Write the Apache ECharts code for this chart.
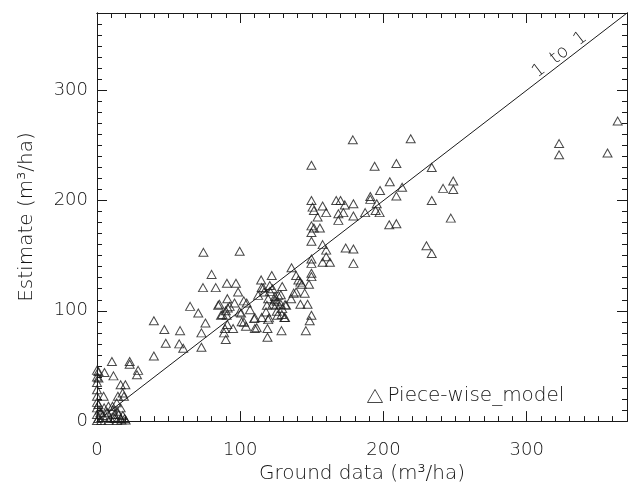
<!DOCTYPE html>
<html>
<head>
<meta charset="utf-8">
<script src="https://cdn.jsdelivr.net/npm/echarts@6/dist/echarts.min.js"></script>
<style>html,body{margin:0;padding:0;background:#fff}#c{width:634px;height:489px}</style>
</head>
<body>
<div id="c"></div>
<script>
// Ground data (m3/ha)
var groundData = [363.5,322.6,322.6,356.4,178.6,219,149.7,193.8,209,233.7,204.4,213,248.7,241.6,248.7,197.6,233.7,190.8,190.8,209,195.3,194.5,197.3,187.2,179,179,173,167,170,168.5,168.5,172,247,204,209,230,233.7,173.6,179,179,157.5,160,154,155.6,157.5,160,160,157.5,162.6,149.7,150.5,151.4,149.7,151.4,149.7,149.7,149.7,149.7,149.7,149.7,148,149.7,148.5,147,145.8,145,142,140.6,143,137.3,139,135.8,139,142,135.5,129.3,132,130.8,129.3,128.8,126.5,126,125,124,122.6,122,120.6,119.5,118,118.6,116.6,115,114.6,119.5,119,119,115,112.5,110.2,109.7,106.8,104.5,104,102.5,101,100.6,99.6,99.6,98.5,97,96,95,92.6,91,90.7,89.9,89.3,88.7,89.9,86.6,84.6,82.9,80,74.3,74,75.7,72.9,72.9,70.7,65,60.2,58,57.4,48,47,39.7,39.7,28.7,27.9,22.8,22.8,10.4,11.5,5.2,4.6,1,0,0,19.8,17.9,18.8,16.5,14.6,13.8,16.5,10.8,8,5,2.4,1,0,15,12,16.5,12.3,9.5,6.6,19.3,1,
  85.4,91.3,87.5,90.5,102.6,91,110.3,120.1,111.5,116.1,120.8,124.3,128.3,125.5,122.6,128.3,131.3,125.5,129,131.3,
  0,0,0,1,2,4,7,11,14,18,3,8,14,17,20,0,0,0];
// Estimate (m3/ha)
var estimateData = [272,251.6,241.4,243,255,256,232,231,233.6,230,217,212,217.7,211,210,209,200,203.6,201,204,197,191,189,189,197,186,196,200,200,188,182,189,184,178,179,159,152,157,156,143,195,189,185,175,160,155,149,144,144,200,194,191,177,175,171,163,147,143,134,131,124,96,91,106,82,116,126,128,124,116,117,139,132,106,111,122,105,94,102,82,114,96,105,110,120,132,123,111,99,105,117,121,128,92,84,76,94,114,84,93,101,107,86,109,90,98,99,154,117,125,107,84,104,111,125,100,84,80,74,96,105,121,133,153,121,89,80,67,98,104,66,82,70,70.6,83,91,59,46,42,54,51.6,54,41,44,22.5,39,28.5,22.5,33,25.5,22.5,33,22.5,16.5,12,13.5,13.5,12,7.5,15,6,6,6,2.4,2.4,2.4,3.6,2.4,2.4,
  106,102.6,96.6,96,89.7,87.6,93.6,93.6,84.6,120.6,117.6,113,114.6,108.6,106,106,105.6,99.6,96.6,94,
  35,17,12,45,10,5,8,10,9,5,0.5,0.5,0.5,1,1,0.5,40,46];
var lineX = [0, 370];
var lineY = [0, 370];
var axisMin = 0, axisMax = 370;
var seriesName = 'Piece-wise_model';
var lineLabel = '1  to  1';

var ink = '#1a1a1a';
var txt = '#151515';
var font = 'DejaVu Sans';
var fw = 200;

function mkAxis(isX, pos, major, showLabel) {
  var a = {
    type: 'value', min: axisMin, max: axisMax, interval: major ? 100 : 10,
    position: pos,
    axisLine: {show: true, onZero: false, lineStyle: {color: ink, width: 1}},
    axisTick: {show: true, inside: true, length: major ? 10 : 5, lineStyle: {color: ink, width: 1}},
    splitLine: {show: false},
    axisLabel: {show: showLabel, showMaxLabel: false, color: txt, fontSize: 18, fontWeight: fw, fontFamily: font, margin: isX ? 20 : 9}
  };
  if (showLabel) {
    a.name = isX ? 'Ground data (m\u00b3/ha)' : 'Estimate (m\u00b3/ha)';
    a.nameLocation = 'middle';
    a.nameGap = isX ? 36 : 60;
    a.nameTextStyle = {color: txt, fontSize: 20, fontWeight: fw, fontFamily: font};
  }
  return a;
}

var pts = groundData.map(function (x, i) { return [x, estimateData[i]]; });
var linePts = lineX.map(function (x, i) { return [x, lineY[i]]; });

var chart = echarts.init(document.getElementById('c'), null, {renderer: 'canvas'});
chart.setOption({
  animation: false,
  backgroundColor: '#fff',
  grid: {left: 97, right: 7, top: 13, bottom: 65, containLabel: false},
  xAxis: [mkAxis(true, 'bottom', true, true), mkAxis(true, 'bottom', false, false),
          mkAxis(true, 'top', true, false), mkAxis(true, 'top', false, false)],
  yAxis: [mkAxis(false, 'left', true, true), mkAxis(false, 'left', false, false),
          mkAxis(false, 'right', true, false), mkAxis(false, 'right', false, false)],
  legend: {
    data: [seriesName], left: 362, top: 381, itemWidth: 15, itemHeight: 13, itemGap: 10,
    icon: 'triangle',
    itemStyle: {color: 'rgba(0,0,0,0)', borderColor: ink, borderWidth: 1},
    textStyle: {color: txt, fontSize: 20, fontWeight: fw, fontFamily: font}
  },
  series: [
    {
      name: seriesName, type: 'scatter', xAxisIndex: 0, yAxisIndex: 0,
      symbol: 'triangle', symbolSize: [9, 8],
      itemStyle: {color: 'rgba(0,0,0,0)', borderColor: ink, borderWidth: 1},
      data: pts
    },
    {
      name: lineLabel, type: 'line', xAxisIndex: 0, yAxisIndex: 0, symbol: 'none',
      lineStyle: {color: ink, width: 1}, data: linePts, z: 1
    }
  ]
});
var p = chart.convertToPixel({xAxisIndex: 0, yAxisIndex: 0}, [323, 332]);
var p0 = chart.convertToPixel({xAxisIndex: 0, yAxisIndex: 0}, [0, 0]);
var p1 = chart.convertToPixel({xAxisIndex: 0, yAxisIndex: 0}, [370, 370]);
var ang = Math.atan2(p0[1] - p1[1], p1[0] - p0[0]);
chart.setOption({
  graphic: [{
    type: 'text', x: p[0], y: p[1], rotation: ang,
    style: {text: lineLabel, fill: txt, fontSize: 18, fontWeight: fw, fontFamily: font, align: 'center', verticalAlign: 'middle'}
  }]
});
</script>
</body>
</html>
